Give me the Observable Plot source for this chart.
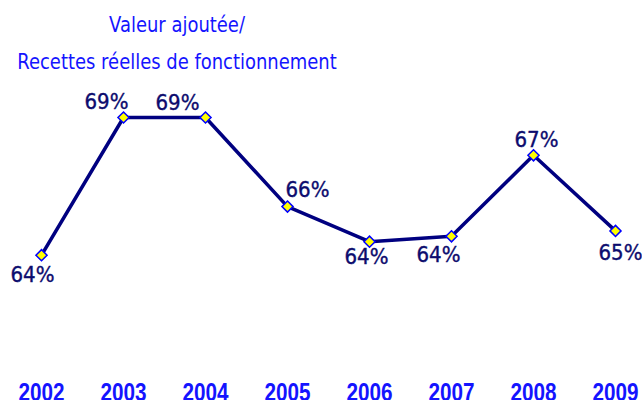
<!DOCTYPE html>
<html><head><meta charset="utf-8">
<script src="https://cdn.jsdelivr.net/npm/d3@7"></script>
<script src="https://cdn.jsdelivr.net/npm/@observablehq/plot@0.6"></script>
<style>
html,body{margin:0;padding:0;background:#fff;overflow:hidden}
#wrap{position:relative;width:642px;height:400px}
.t{position:absolute;left:177px;color:#1414ff;font-family:"DejaVu Sans",sans-serif;font-size:22px;white-space:nowrap;line-height:1;transform:translateX(-50%) scaleX(0.816)}
</style></head><body><div id="wrap"></div>
<script>
const years = [2002, 2003, 2004, 2005, 2006, 2007, 2008, 2009];
const ratios = [63.7, 68.8, 68.8, 65.5, 64.2, 64.4, 67.4, 64.6];
const labels = ["64%", "69%", "69%", "66%", "64%", "64%", "67%", "65%"];
const titleLines = ["Valeur ajoutée/", "Recettes réelles de fonctionnement"];

const data = years.map((year, i) => ({year, ratio: ratios[i], label: labels[i]}));
// label placement offsets (style, not data)
const offsets = {2002: [-9, 20], 2003: [-17, -16], 2004: [-28, -15], 2005: [20, -17],
  2006: [-3, 15], 2007: [-13, 19], 2008: [3, -15], 2009: [5, 22]};

const chart = Plot.plot({
  width: 642, height: 400,
  marginLeft: 40, marginRight: 27, marginTop: 84.6, marginBottom: 45.4,
  x: {type: "point", domain: years, padding: 0, label: null},
  y: {domain: [60, 70], axis: null},
  style: {background: "white"},
  marks: [
    Plot.axisX({tickSize: 0, tickPadding: 28, label: null, tickFormat: d => String(d), fontSize: 25, fontWeight: "bold", fill: "#1414ff", fontFamily: "'Liberation Sans', Arial, sans-serif"}),
    Plot.line(data, {x: "year", y: "ratio", stroke: "#000080", strokeWidth: 3.5}),
    Plot.dot(data, {x: "year", y: "ratio", symbol: "diamond2", r: 5, fill: "#ffff00", stroke: "#0000ff", strokeWidth: 1.5}),
    ...data.map(d => Plot.text([d], {x: "year", y: "ratio", text: "label", dx: offsets[d.year][0], dy: offsets[d.year][1],
      fontSize: 22, fill: "#0c0c6e", stroke: "#0c0c6e", strokeWidth: 0.4, fontFamily: "'DejaVu Sans', sans-serif"}))
  ]
});
chart.querySelectorAll('g[aria-label="x-axis tick label"] text').forEach(t => {
  t.setAttribute("textLength", 46); t.setAttribute("lengthAdjust", "spacingAndGlyphs");
});
chart.querySelectorAll('g[aria-label="text"] text').forEach(t => {
  t.setAttribute("textLength", 44); t.setAttribute("lengthAdjust", "spacingAndGlyphs");
});
const wrap = document.getElementById("wrap");
wrap.appendChild(chart);
titleLines.forEach((s, i) => {
  const el = document.createElement("div");
  el.className = "t";
  el.textContent = s;
  el.style.top = (i === 0 ? 14 : 51) + "px";
  wrap.appendChild(el);
});
</script></body></html>
